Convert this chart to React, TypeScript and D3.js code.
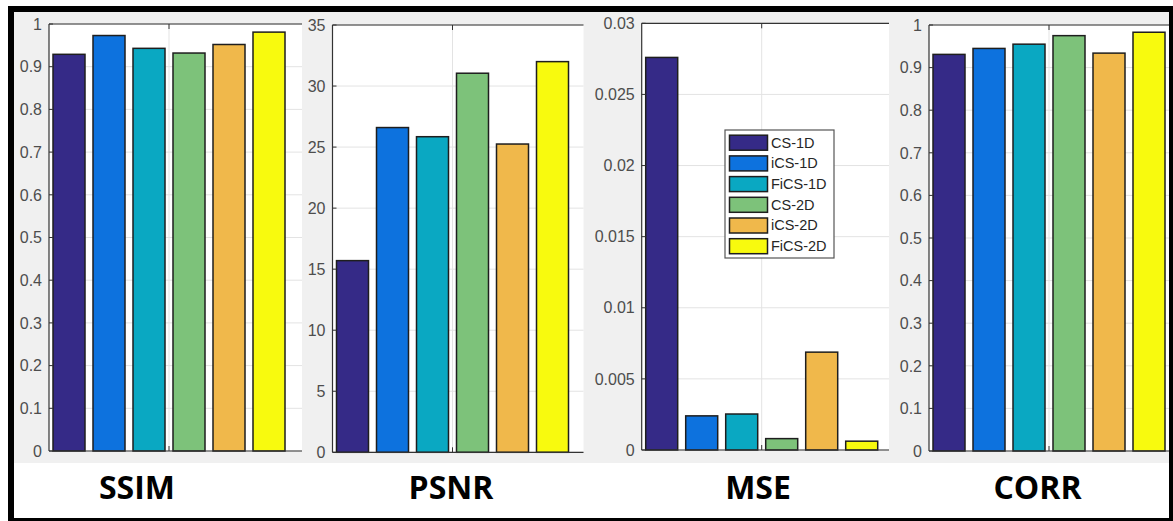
import React from "react";
import * as d3 from "d3";

const SERIES = ["CS-1D", "iCS-1D", "FiCS-1D", "CS-2D", "iCS-2D", "FiCS-2D"];
const COLORS = ["#352a87", "#0d72de", "#0aa8c2", "#7dc27a", "#f0b84b", "#f8fa0e"];

const SSIM = [0.929, 0.973, 0.943, 0.932, 0.952, 0.981];
const PSNR = [15.7, 26.6, 25.85, 31.05, 25.25, 32.0];
const MSE = [0.0276, 0.0024, 0.00253, 0.0008, 0.00688, 0.00062];
const CORR = [0.931, 0.945, 0.955, 0.975, 0.934, 0.983];

const TICKS_UNIT = [0, 0.1, 0.2, 0.3, 0.4, 0.5, 0.6, 0.7, 0.8, 0.9, 1];
const TICKS_PSNR = [0, 5, 10, 15, 20, 25, 30, 35];
const TICKS_MSE = [0, 0.005, 0.01, 0.015, 0.02, 0.025, 0.03];

const TITLES = ["SSIM", "PSNR", "MSE", "CORR"];

type Panel = {
  title: string;
  values: number[];
  ticks: number[];
  ymax: number;
  left: number;
  right: number;
  top: number;
  bottom: number;
  titleX: number;
};

const PANELS: Panel[] = [
  { title: TITLES[0], values: SSIM, ticks: TICKS_UNIT, ymax: 1, left: 49, right: 302, top: 24, bottom: 451, titleX: 137 },
  { title: TITLES[1], values: PSNR, ticks: TICKS_PSNR, ymax: 35, left: 332.5, right: 583.5, top: 25, bottom: 452.3, titleX: 451 },
  { title: TITLES[2], values: MSE, ticks: TICKS_MSE, ymax: 0.03, left: 641.7, right: 889, top: 23.3, bottom: 450, titleX: 758 },
  { title: TITLES[3], values: CORR, ticks: TICKS_UNIT, ymax: 1, left: 929, right: 1169, top: 25, bottom: 451, titleX: 1037.5 },
];

const AXIS = "#333333";
const GRID = "#e3e3e3";
const TICKTXT = "#4d4d4d";
const FONT = "'Liberation Sans', Arial, sans-serif";

function PanelView({ p }: { p: Panel }) {
  const y = d3.scaleLinear().domain([0, p.ymax]).range([p.bottom, p.top]);
  const x = d3
    .scaleBand<string>()
    .domain(SERIES)
    .range([p.left, p.left + 240])
    .paddingInner(0.2)
    .paddingOuter(0.1);
  const cx = p.left + 120;
  return (
    <g>
      <rect x={p.left} y={p.top} width={p.right - p.left} height={p.bottom - p.top} fill="#ffffff" />
      {p.ticks.map((t, i) => (
        <line key={"g" + i} x1={p.left} x2={p.right} y1={y(t)} y2={y(t)} stroke={GRID} strokeWidth={1} />
      ))}
      <line x1={cx} x2={cx} y1={p.top} y2={p.bottom} stroke={GRID} strokeWidth={1} />
      {p.values.map((v, i) => (
        <rect
          key={"b" + i}
          x={x(SERIES[i])}
          y={y(v)}
          width={x.bandwidth()}
          height={p.bottom - y(v)}
          fill={COLORS[i]}
          stroke="#1e1e1e"
          strokeWidth={1.5}
        />
      ))}
      <line x1={p.left} x2={p.left} y1={p.top} y2={p.bottom} stroke={AXIS} strokeWidth={1.2} />
      <line x1={p.left} x2={p.right} y1={p.top} y2={p.top} stroke={AXIS} strokeWidth={1.2} />
      <line x1={p.left} x2={p.right} y1={p.bottom} y2={p.bottom} stroke={AXIS} strokeWidth={1.2} />
      <line x1={cx} x2={cx} y1={p.top} y2={p.top + 5} stroke={AXIS} strokeWidth={1} />
      <line x1={cx} x2={cx} y1={p.bottom} y2={p.bottom - 5} stroke={AXIS} strokeWidth={1} />
      {p.ticks.map((t, i) => (
        <g key={"t" + i}>
          <line x1={p.left} x2={p.left + 4} y1={y(t)} y2={y(t)} stroke={AXIS} strokeWidth={1} />
          <text
            x={p.left - 7}
            y={y(t) + 1.5}
            textAnchor="end"
            dominantBaseline="middle"
            fontFamily={FONT}
            fontSize={16}
            fill={TICKTXT}
          >
            {String(t)}
          </text>
        </g>
      ))}
      <text
        x={p.titleX}
        y={499}
        textAnchor="middle"
        fontFamily="'Open Sans', sans-serif"
        fontWeight={700}
        fontSize={32}
        fill="#000000"
      >
        {p.title}
      </text>
    </g>
  );
}

function Legend() {
  const lx = 725;
  const ly = 130;
  const row = d3.scaleLinear().domain([0, 1]).range([142.7, 163.4]);
  return (
    <g>
      <rect x={lx} y={ly} width={109} height={128} fill="#ffffff" stroke="#555555" strokeWidth={1.2} />
      {SERIES.map((s, i) => (
        <g key={s}>
          <rect x={729.5} y={row(i) - 7.5} width={38} height={15} fill={COLORS[i]} stroke="#1e1e1e" strokeWidth={1.5} />
          <text x={771} y={row(i) + 1} dominantBaseline="middle" fontFamily={FONT} fontSize={14.5} fill="#262626">
            {s}
          </text>
        </g>
      ))}
    </g>
  );
}

export default function App() {
  return (
    <svg
      width={1173}
      height={521}
      style={{ position: "absolute", left: 0, top: 0, display: "block" }}
    >
      <rect x={0} y={0} width={1173} height={521} fill="#ffffff" />
      <rect x={14} y={12} width={1155} height={451} fill="#f0f0f0" />
      {PANELS.map((p) => (
        <PanelView key={p.title} p={p} />
      ))}
      <Legend />
      <rect x={8} y={6} width={1165} height={6} fill="#000000" />
      <rect x={8} y={6} width={6} height={515} fill="#000000" />
      <rect x={8} y={518} width={1165} height={3} fill="#000000" />
      <rect x={1169} y={6} width={4} height={515} fill="#000000" />
    </svg>
  );
}
